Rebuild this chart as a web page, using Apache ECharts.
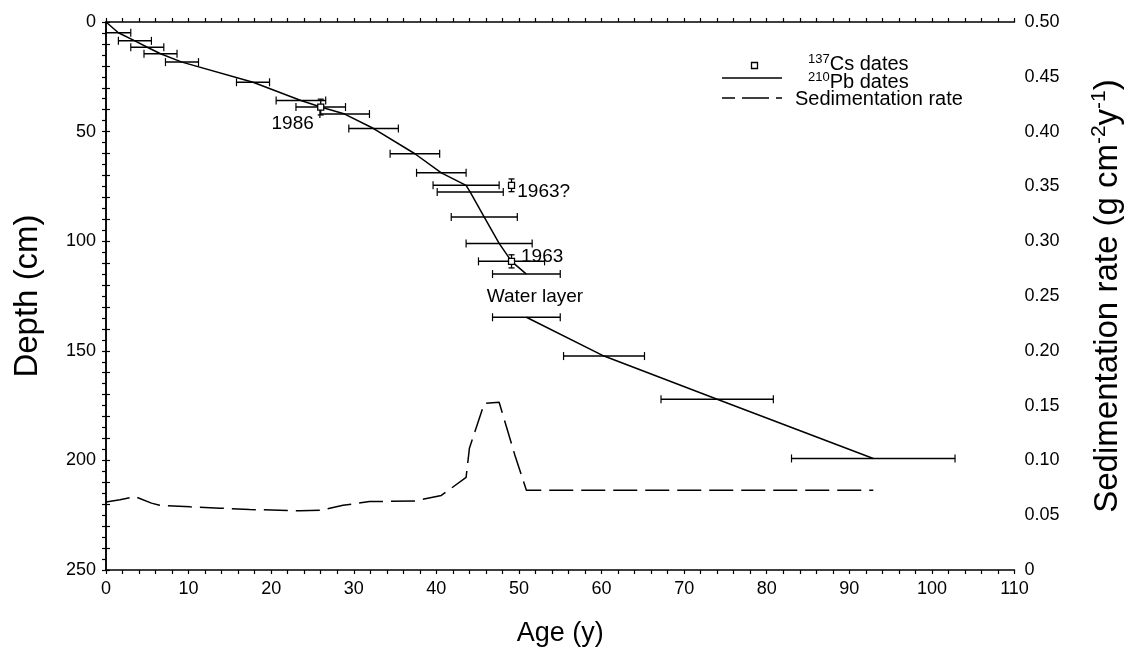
<!DOCTYPE html>
<html>
<head>
<meta charset="utf-8">
<script src="https://cdn.jsdelivr.net/npm/echarts@6/dist/echarts.min.js"></script>
<style>html,body{margin:0;padding:0;background:#fff}#c{width:1132px;height:652px}</style>
</head>
<body>
<div id="c"></div>
<script>
// 210Pb dates: age (y), depth (cm), age error (+/- y)
const pbAge   = [1.5, 3.5, 5.0, 6.6, 9.2, 17.8, 23.6, 26.0, 28.9, 32.4, 37.4, 40.6, 43.6, 44.1, 45.8, 47.6, 49.1, 50.9, 50.9, 60.3, 74.0, 92.9];
const pbDepth = [4.9, 8.6, 11.5, 14.5, 18.3, 27.5, 35.8, 38.8, 42.0, 48.6, 60.1, 68.8, 74.5, 77.6, 89.0, 101.0, 109.2, 115.0, 134.7, 152.4, 172.1, 199.1];
const pbErr   = [1.5, 2.0, 2.0, 2.0, 2.0, 2.0, 3.0, 3.0, 3.0, 3.0, 3.0, 3.0, 4.0, 4.0, 4.0, 4.0, 4.0, 4.1, 4.1, 4.9, 6.8, 9.9];
// 210Pb age-depth line (gap across the water layer)
const lineAge   = [0, 1.5, 3.5, 5.0, 6.6, 9.2, 17.8, 23.6, 26.0, 28.9, 32.4, 37.4, 40.6, 43.6, 44.1, 45.8, 47.6, 49.1, 50.9, null, 50.9, 60.3, 74.0, 92.9];
const lineDepth = [0, 4.9, 8.6, 11.5, 14.5, 18.3, 27.5, 35.8, 38.8, 42.0, 48.6, 60.1, 68.8, 74.5, 77.6, 89.0, 101.0, 109.2, 115.0, null, 134.7, 152.4, 172.1, 199.1];
// 137Cs dates
const csAge   = [26.0, 49.1, 49.1];
const csDepth = [38.8, 74.5, 109.2];
const csErr   = [3.6, 2.9, 3.0];
// Sedimentation rate (g cm-2 y-1)
const sedAge  = [0, 1.7, 3.5, 5.5, 6.5, 10.2, 13.8, 17.4, 21.0, 23.5, 26.0, 28.7, 31.9, 37.4, 40.6, 43.6, 44.0, 45.8, 47.6, 49.5, 50.9, 92.9];
const sedRate = [0.062, 0.064, 0.067, 0.061, 0.059, 0.0576, 0.0564, 0.0552, 0.0545, 0.054, 0.0545, 0.059, 0.0624, 0.063, 0.068, 0.0845, 0.111, 0.152, 0.153, 0.105, 0.0727, 0.0727];
// Annotations
const annText  = ['1986', '1963?', '1963', 'Water layer'];
const annAge   = [22.6, 49.8, 50.25, 46.1];
const annDepth = [46.5, 77.6, 106.9, 125.4];
const annPos   = ['inside', 'right', 'right', 'right'];

const FONT = "'Liberation Sans', Arial, sans-serif";
const chart = echarts.init(document.getElementById('c'), null, {renderer: 'canvas'});

function hErrRender(params, api) {
  const x = api.value(0), y = api.value(1), e = api.value(2);
  const p1 = api.coord([x - e, y]), p2 = api.coord([x + e, y]);
  const c = 4, st = {stroke: '#000', lineWidth: 1.5};
  return {type: 'group', children: [
    {type: 'line', shape: {x1: p1[0], y1: p1[1], x2: p2[0], y2: p2[1]}, style: st},
    {type: 'line', shape: {x1: p1[0], y1: p1[1] - c, x2: p1[0], y2: p1[1] + c}, style: {stroke: '#000', lineWidth: 1.2}},
    {type: 'line', shape: {x1: p2[0], y1: p2[1] - c, x2: p2[0], y2: p2[1] + c}, style: {stroke: '#000', lineWidth: 1.2}}
  ]};
}
function vErrRender(params, api) {
  const x = api.value(0), y = api.value(1), e = api.value(2);
  const p1 = api.coord([x, y - e]), p2 = api.coord([x, y + e]), pc = api.coord([x, y]);
  const c = 3, st = {stroke: '#000', lineWidth: 1.3};
  return {type: 'group', children: [
    {type: 'line', shape: {x1: p1[0], y1: p1[1], x2: p2[0], y2: p2[1]}, style: st},
    {type: 'line', shape: {x1: p1[0] - c, y1: p1[1], x2: p1[0] + c, y2: p1[1]}, style: st},
    {type: 'line', shape: {x1: p2[0] - c, y1: p2[1], x2: p2[0] + c, y2: p2[1]}, style: st},
    {type: 'rect', shape: {x: pc[0] - 3, y: pc[1] - 3, width: 6, height: 6}, style: {stroke: '#000', fill: '#fff', lineWidth: 1.3}}
  ]};
}

const axisCommon = {
  axisLine: {show: true, lineStyle: {color: '#000', width: 1.5}},
  axisTick: {show: true, inside: true, length: 4, lineStyle: {color: '#000', width: 1.2}},
  minorTick: {show: true, splitNumber: 5, length: 4, lineStyle: {color: '#000', width: 1.2}},
  splitLine: {show: false},
  axisLabel: {color: '#000', fontSize: 18, fontFamily: FONT}
};

const supRich = {
  n: {fontSize: 20, fontFamily: FONT, color: '#000'},
  s: {fontSize: 13, fontFamily: FONT, color: '#000', verticalAlign: 'top', lineHeight: 22}
};

const option = {
  backgroundColor: '#fff',
  animation: false,
  grid: {left: 106, top: 22, width: 910, height: 550, containLabel: false},
  xAxis: [
    Object.assign({}, axisCommon, {type: 'value', position: 'bottom', min: 0, max: 110, interval: 10,
      name: 'Age (y)', nameLocation: 'middle', nameGap: 50,
      nameTextStyle: {fontSize: 27, fontFamily: FONT, color: '#000'},
      axisLabel: {color: '#000', fontSize: 18, fontFamily: FONT, margin: 10}}),
    Object.assign({}, axisCommon, {type: 'value', position: 'top', min: 0, max: 110, interval: 10,
      axisLabel: {show: false}})
  ],
  yAxis: [
    Object.assign({}, axisCommon, {type: 'value', position: 'left', inverse: true, min: 0, max: 250, interval: 50,
      name: 'Depth (cm)', nameLocation: 'middle', nameGap: 62, nameRotate: 90,
      nameTextStyle: {fontSize: 33, fontFamily: FONT, color: '#000'},
      axisLabel: {color: '#000', fontSize: 18, fontFamily: FONT, margin: 10}}),
    Object.assign({}, axisCommon, {type: 'value', position: 'right', min: 0, max: 0.5, interval: 0.05,
      name: '{n|Sedimentation rate (g cm}{s|-2}{n|y}{s|-1}{n|)}', nameLocation: 'middle', nameGap: 74, nameRotate: 90,
      nameTextStyle: {fontSize: 33, fontFamily: FONT, color: '#000', rich: {
        n: {fontSize: 33, fontFamily: FONT, color: '#000'},
        s: {fontSize: 21, fontFamily: FONT, color: '#000', verticalAlign: 'top', lineHeight: 38}
      }},
      axisLabel: {color: '#000', fontSize: 18, fontFamily: FONT, margin: 10,
        formatter: v => (v === 0 ? '0' : v.toFixed(2))}})
  ],
  series: [
    {type: 'line', name: 'Pb line', xAxisIndex: 0, yAxisIndex: 0, showSymbol: false, connectNulls: false,
      lineStyle: {color: '#000', width: 1.5}, data: lineAge.map((a, i) => [a, lineDepth[i]])},
    {type: 'custom', name: 'Pb err', xAxisIndex: 0, yAxisIndex: 0, renderItem: hErrRender,
      encode: {x: 0, y: 1}, data: pbAge.map((a, i) => [a, pbDepth[i], pbErr[i]]), z: 3},
    {type: 'custom', name: 'Cs', xAxisIndex: 0, yAxisIndex: 0, renderItem: vErrRender,
      encode: {x: 0, y: 1}, data: csAge.map((a, i) => [a, csDepth[i], csErr[i]]), z: 4},
    {type: 'line', name: 'Sed rate', xAxisIndex: 0, yAxisIndex: 1, showSymbol: false,
      lineStyle: {color: '#000', width: 1.5, type: [24, 8]}, data: sedAge.map((a, i) => [a, sedRate[i]])},
    {type: 'scatter', name: 'ann', xAxisIndex: 0, yAxisIndex: 0, symbolSize: 0, silent: true,
      itemStyle: {opacity: 1},
      data: annText.map((t, i) => ({name: t, value: [annAge[i], annDepth[i]],
        label: {show: true, position: annPos[i], distance: 0, formatter: '{b}',
          fontSize: 19, fontFamily: FONT, color: '#000', opacity: 1, textBorderWidth: 0}}))}
  ],
  graphic: [
    {type: 'rect', left: 749, top: 60, shape: {width: 6, height: 6}, style: {stroke: '#000', fill: 'none', lineWidth: 1.3}},
    {type: 'line', shape: {x1: 722, y1: 78, x2: 782, y2: 78}, style: {stroke: '#000', lineWidth: 1.5}},
    {type: 'line', shape: {x1: 722, y1: 98, x2: 782, y2: 98}, style: {stroke: '#000', lineWidth: 1.5, lineDash: [27, 7], lineDashOffset: 14}},
    {type: 'text', left: 808, top: 53, style: {text: '{s|137}{n|Cs dates}', rich: supRich}},
    {type: 'text', left: 808, top: 71, style: {text: '{s|210}{n|Pb dates}', rich: supRich}},
    {type: 'text', left: 795, top: 89, style: {text: 'Sedimentation rate', fontSize: 20, fontFamily: FONT, fill: '#000'}}
  ]
};
chart.setOption(option);
</script>
</body>
</html>
